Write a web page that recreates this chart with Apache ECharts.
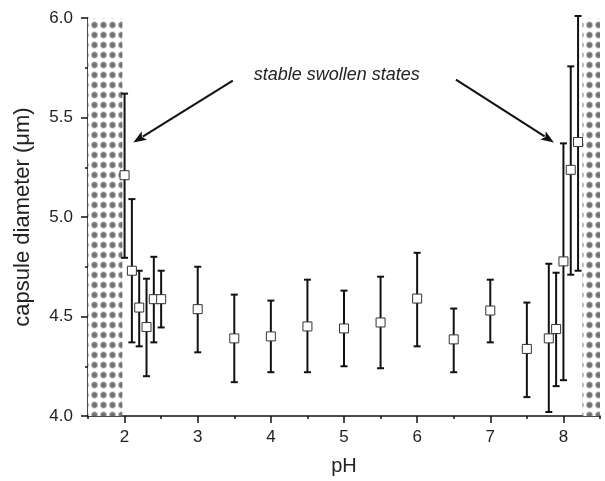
<!DOCTYPE html>
<html>
<head>
<meta charset="utf-8">
<script src="https://cdn.jsdelivr.net/npm/echarts@6/dist/echarts.min.js"></script>
<style>html,body{margin:0;padding:0;background:#fff;}#c{width:605px;height:481px;}</style>
</head>
<body>
<div id="c"></div>
<script>
// ---- data ----
var pH       = [2.0, 2.1, 2.2, 2.3, 2.4, 2.5, 3.0, 3.5, 4.0, 4.5, 5.0, 5.5, 6.0, 6.5, 7.0, 7.5, 7.8, 7.9, 8.0, 8.1, 8.2];
var diameter = [5.21, 4.73, 4.545, 4.447, 4.587, 4.587, 4.537, 4.39, 4.40, 4.45, 4.44, 4.47, 4.59, 4.385, 4.53, 4.337, 4.39, 4.437, 4.777, 5.237, 5.377];
var errLow   = [4.795, 4.37, 4.35, 4.20, 4.37, 4.445, 4.32, 4.17, 4.22, 4.22, 4.25, 4.24, 4.35, 4.22, 4.37, 4.095, 4.02, 4.15, 4.18, 4.71, 4.73];
var errHigh  = [5.62, 5.09, 4.73, 4.69, 4.80, 4.73, 4.75, 4.61, 4.58, 4.685, 4.63, 4.70, 4.82, 4.54, 4.685, 4.57, 4.765, 4.72, 5.37, 5.757, 6.01];
var shadedRanges = [[1.5, 1.97], [8.26, 8.5]];
var xLabelTicks = [2, 3, 4, 5, 6, 7, 8];
var xMinorTicks = [1.5, 2.5, 3.5, 4.5, 5.5, 6.5, 7.5, 8.5];
var annotationText = 'stable swollen states';
var textAnchor = [4.9, 5.715];
var arrows = [[3.48, 5.685, 2.12, 5.375], [6.53, 5.69, 7.87, 5.375]];

// ---- dotted pattern ----
var pc = document.createElement('canvas');
pc.width = 9; pc.height = 10;
var g = pc.getContext('2d');
g.fillStyle = '#ffffff'; g.fillRect(0, 0, 9, 10);
var rg = g.createRadialGradient(4.5, 5, 0.5, 4.5, 5, 4.2);
rg.addColorStop(0, 'rgba(105,105,105,1)');
rg.addColorStop(0.55, 'rgba(125,125,125,0.95)');
rg.addColorStop(1, 'rgba(210,210,210,0)');
g.fillStyle = rg; g.fillRect(0, 0, 9, 10);
var pattern = { image: pc, repeat: 'repeat' };

var errData = pH.map(function (p, i) { return [p, errLow[i], errHigh[i]]; });
var ptData = pH.map(function (p, i) { return [p, diameter[i]]; });

var font = 'Liberation Sans, Arial, Helvetica, sans-serif';
var chart = echarts.init(document.getElementById('c'), null, { renderer: 'canvas' });
chart.setOption({
  backgroundColor: '#ffffff',
  animation: false,
  grid: { left: 88, right: 5, top: 18, bottom: 63, containLabel: false },
  xAxis: [{
    type: 'value', min: 1.5, max: 8.5,
    name: 'pH', nameLocation: 'middle', nameGap: 40,
    nameTextStyle: { fontSize: 20, color: '#222', fontFamily: font },
    axisLine: { show: true, onZero: false, lineStyle: { color: '#111', width: 1.5 } },
    axisTick: { show: true, inside: false, length: 7, customValues: xLabelTicks, lineStyle: { color: '#111', width: 1.5 } },
    axisLabel: { show: true, customValues: xLabelTicks, margin: 13, fontSize: 17, color: '#222', fontFamily: font },
    splitLine: { show: false }
  }, {
    type: 'value', min: 1.5, max: 8.5, position: 'bottom',
    axisLine: { show: false },
    axisTick: { show: true, inside: false, length: 3, customValues: xMinorTicks, lineStyle: { color: '#111', width: 1.5 } },
    axisLabel: { show: false },
    splitLine: { show: false }
  }],
  yAxis: {
    type: 'value', min: 4, max: 6, interval: 0.5,
    name: 'capsule diameter (\u03bcm)', nameLocation: 'middle', nameGap: 54,
    nameTextStyle: { fontSize: 22, color: '#222', fontFamily: font },
    axisLine: { show: true, lineStyle: { color: '#111', width: 1.5 } },
    axisTick: { show: true, inside: false, length: 7, lineStyle: { color: '#111', width: 1.5 } },
    minorTick: { show: true, splitNumber: 2, length: 3, lineStyle: { color: '#111', width: 1.5 } },
    axisLabel: { margin: 15, fontSize: 17, color: '#222', fontFamily: font,
      formatter: function (v) { return v.toFixed(1); } },
    splitLine: { show: false }
  },
  series: [{
    type: 'line', data: [], z: 1, silent: true,
    markArea: {
      silent: true,
      itemStyle: { color: pattern, borderWidth: 0 },
      data: shadedRanges.map(function (r) { return [{ xAxis: r[0], yAxis: 4 }, { xAxis: r[1], yAxis: 6 }]; })
    }
  }, {
    type: 'custom', z: 3, silent: true,
    data: errData,
    encode: { x: 0, y: [1, 2] },
    renderItem: function (params, api) {
      var x = api.value(0);
      var lo = api.coord([x, api.value(1)]);
      var hi = api.coord([x, api.value(2)]);
      var cw = 3.5;
      var st = { stroke: '#111', lineWidth: 2 };
      return { type: 'group', children: [
        { type: 'line', shape: { x1: lo[0], y1: lo[1], x2: hi[0], y2: hi[1] }, style: st },
        { type: 'line', shape: { x1: lo[0] - cw, y1: lo[1], x2: lo[0] + cw, y2: lo[1] }, style: st },
        { type: 'line', shape: { x1: hi[0] - cw, y1: hi[1], x2: hi[0] + cw, y2: hi[1] }, style: st }
      ] };
    }
  }, {
    type: 'scatter', z: 4, silent: true,
    data: ptData,
    symbol: 'rect', symbolSize: 9,
    itemStyle: { color: '#ffffff', borderColor: '#333', borderWidth: 1, opacity: 1 }
  }, {
    type: 'custom', z: 5, silent: true,
    data: arrows,
    renderItem: function (params, api) {
      var s = api.coord([api.value(0), api.value(1)]);
      var t = api.coord([api.value(2), api.value(3)]);
      var dx = t[0] - s[0], dy = t[1] - s[1];
      var L = Math.sqrt(dx * dx + dy * dy);
      var ux = dx / L, uy = dy / L;
      var hl = 13, hw = 5;
      var bx = t[0] - ux * hl, by = t[1] - uy * hl;
      var children = [
        { type: 'line', shape: { x1: s[0], y1: s[1], x2: bx + ux * 2, y2: by + uy * 2 }, style: { stroke: '#111', lineWidth: 2 } },
        { type: 'polygon', shape: { points: [[t[0], t[1]], [bx - uy * hw, by + ux * hw], [bx + ux * 3, by + uy * 3], [bx + uy * hw, by - ux * hw]] }, style: { fill: '#111' } }
      ];
      if (params.dataIndex === 0) {
        var tp = api.coord(textAnchor);
        children.push({ type: 'text', style: { text: annotationText, x: tp[0], y: tp[1], align: 'center', verticalAlign: 'middle',
          font: 'italic 18px ' + font, fill: '#222' } });
      }
      return { type: 'group', children: children };
    }
  }]
});
</script>
</body>
</html>
